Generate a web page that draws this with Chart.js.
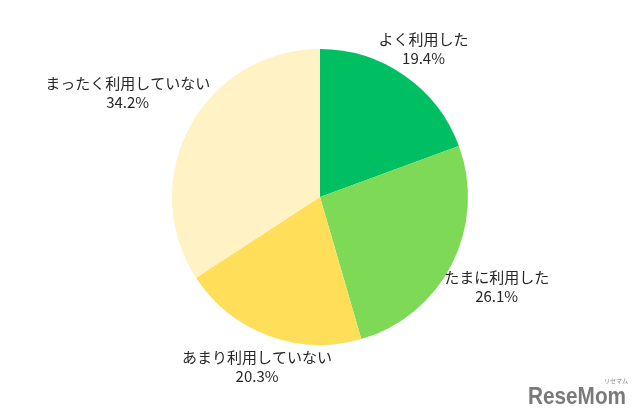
<!DOCTYPE html>
<html>
<head>
<meta charset="utf-8">
<script src="https://cdn.jsdelivr.net/npm/chart.js@4/dist/chart.umd.min.js"></script>
<style>
  html, body { margin: 0; padding: 0; background: #fff; }
  #wrap { width: 640px; height: 418px; position: relative; }
</style>
</head>
<body>
<div id="wrap"><canvas id="chart"></canvas></div>
<script>
const categories = ["よく利用した", "たまに利用した", "あまり利用していない", "まったく利用していない"];
const shares = [19.4, 26.1, 20.3, 34.2];
const colors = ["#00bf63", "#7ed957", "#ffde59", "#fff2c4"];

const font = "15px 'Noto Sans CJK JP', 'Noto Sans', sans-serif";

// labels outside each slice, centre on the mid angle, pushed out more for wide horizontal text
const outsideLabels = {
  id: "outsideLabels",
  afterDatasetsDraw(chart) {
    const ctx = chart.ctx;
    const meta = chart.getDatasetMeta(0);
    ctx.save();
    ctx.font = font;
    ctx.fillStyle = "#262626";
    ctx.textAlign = "center";
    ctx.textBaseline = "middle";
    meta.data.forEach((arc, i) => {
      const mid = (arc.startAngle + arc.endAngle) / 2;
      const lines = [categories[i], shares[i].toFixed(1) + "%"];
      const w = Math.max(...lines.map(l => ctx.measureText(l).width));
      const d = arc.outerRadius + 12 + 0.81 * Math.abs(Math.cos(mid)) * w / 2;
      const cx = arc.x + Math.cos(mid) * d;
      const cy = arc.y + Math.sin(mid) * d;
      ctx.fillText(lines[0], cx, cy - 9.5);
      ctx.fillText(lines[1], cx, cy + 9.5);
    });
    ctx.restore();
  }
};

const watermark = {
  id: "watermark",
  afterDraw(chart) {
    const ctx = chart.ctx;
    ctx.save();
    ctx.fillStyle = "#7a7a7a";
    ctx.textAlign = "left";
    ctx.textBaseline = "alphabetic";
    ctx.font = "bold 24px 'Liberation Sans', sans-serif";
    const tw = ctx.measureText("ReseMom").width;
    ctx.translate(528, 404);
    ctx.scale(98 / tw, 1);
    ctx.fillText("ReseMom", 0, 0);
    ctx.restore();
    ctx.save();
    ctx.fillStyle = "#8a8a8a";
    ctx.font = "6px 'Noto Sans CJK JP', sans-serif";
    ctx.fillText("リセマム", 604, 383);
    ctx.restore();
  }
};

new Chart(document.getElementById("chart"), {
  type: "pie",
  data: {
    labels: categories,
    datasets: [{
      data: shares,
      backgroundColor: colors,
      borderWidth: 0
    }]
  },
  options: {
    responsive: true,
    maintainAspectRatio: false,
    animation: false,
    layout: { padding: { top: 49, bottom: 73, left: 0, right: 0 } },
    plugins: {
      legend: { display: false },
      tooltip: { enabled: false }
    }
  },
  plugins: [outsideLabels, watermark]
});
</script>
</body>
</html>
